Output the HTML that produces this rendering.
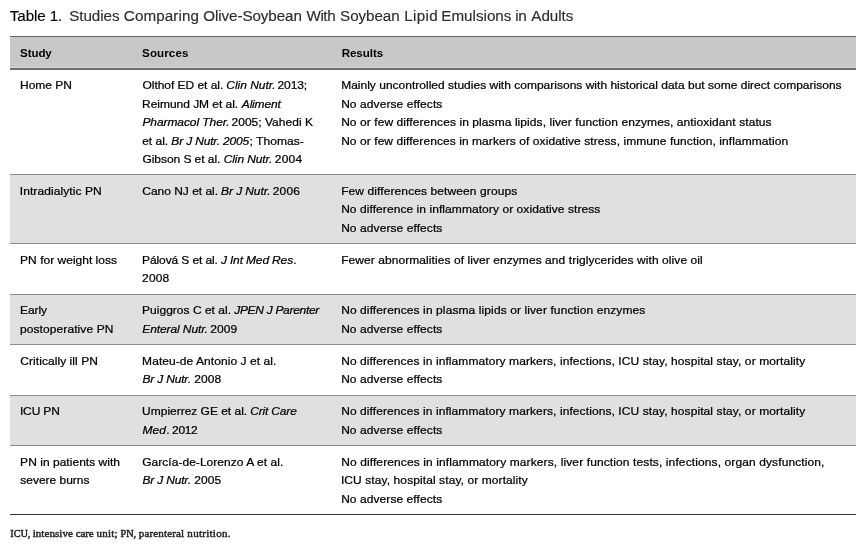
<!DOCTYPE html>
<html lang="en">
<head>
<meta charset="utf-8">
<title>Table 1</title>
<style>
html,body{margin:0;padding:0;background:#fff;}
body{width:866px;height:549px;overflow:hidden;position:relative;font-family:"Liberation Sans",Arial,Helvetica,sans-serif;color:#000;}
.cap{position:absolute;left:10px;top:6px;font-size:15.2px;line-height:20px;color:#2c2c2c;white-space:nowrap;-webkit-text-stroke:0.15px #2c2c2c;}
.cap .t1{color:#000;-webkit-text-stroke-color:#000;}
.tbl{position:absolute;left:10px;top:36px;width:846px;font-size:12px;line-height:18.4px;-webkit-text-stroke:0.25px #000;}
.r{display:flex;border-bottom:1px solid #8c8c8c;padding:6.85px 0 5.85px 0;box-sizing:border-box;}
.r.g{background:#e0e0e0;}
.r.h{background:#c8c8c8;border-top:1px solid #666;border-bottom:2px solid #6e6e6e;font-weight:bold;height:34px;padding:6.5px 0 0 0;box-shadow:inset 0 -1px 0 #d6d6d6;-webkit-text-stroke:0;}
.r.h + .r{padding-top:6.35px;}
.r.last{border-bottom:1px solid #333;}
.c1{width:122px;padding-left:10px;box-sizing:border-box;flex:none;}
.c2{width:199px;padding-left:10px;box-sizing:border-box;flex:none;}
.c3{flex:1;padding-left:10px;}
.l{white-space:nowrap;}
.foot{position:absolute;left:10px;top:525px;font-family:"Liberation Serif","Times New Roman",serif;font-size:11px;line-height:16px;color:#222;white-space:nowrap;-webkit-text-stroke:0.45px #222;}
.foot .sc{font-size:10.2px;}
.tbl .l{transform:scaleY(.935);transform-origin:0 13.2px;}
.r.h .l{font-size:11.6px;transform:scaleY(.97);}
</style>
</head>
<body>
<div class="cap l"><span class="t1" style="margin-left:-0.18px;letter-spacing:-0.1px">Table 1.</span> <span style="margin-left:2.76px;letter-spacing:-0.05px">Studies</span> <span style="margin-left:0.07px;letter-spacing:0.11px">Comparing</span> <span style="margin-left:-0.06px;letter-spacing:-0.09px">Olive-Soybean</span> <span style="margin-left:0.53px;letter-spacing:-0.43px">With</span> <span style="margin-left:0.73px;letter-spacing:-0.07px">Soybean</span> <span style="margin-left:0.32px;letter-spacing:0.36px">Lipid</span> <span style="margin-left:-0.98px;letter-spacing:0.01px">Emulsions</span> <span style="margin-left:-0.36px;letter-spacing:-0.45px">in</span> <span style="margin-left:0.89px;letter-spacing:-0.06px">Adults</span></div>
<div class="tbl">
<div class="r h">
<div class="c1">
<div class="l"><span style="margin-left:0.08px;letter-spacing:-0.12px">Study</span></div>
</div>
<div class="c2">
<div class="l"><span style="margin-left:0.08px;letter-spacing:0.09px">Sources</span></div>
</div>
<div class="c3">
<div class="l"><span style="margin-left:0.64px;letter-spacing:-0.04px">Results</span></div>
</div>
</div>
<div class="r">
<div class="c1">
<div class="l"><span style="margin-left:0.12px;letter-spacing:-0.05px">Home PN</span></div>
</div>
<div class="c2">
<div class="l"><span style="margin-left:0.48px;letter-spacing:-0.04px">Olthof ED et al.</span> <i style="margin-left:-0.26px;letter-spacing:-0.02px">Clin Nutr.</i> <span style="margin-left:-1.46px;letter-spacing:-0.12px">2013;</span></div>
<div class="l"><span style="margin-left:0.12px;letter-spacing:-0.04px">Reimund JM et al.</span> <i style="margin-left:0.34px;letter-spacing:-0.18px">Aliment</i></div>
<div class="l"><i style="margin-left:0.42px;letter-spacing:-0.08px">Pharmacol Ther.</i> <span style="margin-left:-1.32px;letter-spacing:0.02px">2005; Vahedi K</span></div>
<div class="l"><span style="margin-left:0.17px">et al.</span> <i style="margin-left:-0.21px;letter-spacing:-0.17px">Br J Nutr. 2005</i><span style="margin-left:0.57px;letter-spacing:0.04px">; Thomas-</span></div>
<div class="l"><span style="margin-left:0.48px;letter-spacing:-0.06px">Gibson S et al.</span> <i style="margin-left:0.15px;letter-spacing:-0.12px">Clin Nutr.</i> <span style="margin-left:-0.74px;letter-spacing:0.23px">2004</span></div>
</div>
<div class="c3">
<div class="l"><span style="margin-left:0.13px;letter-spacing:0.01px">Mainly uncontrolled studies with comparisons with historical data but some direct comparisons</span></div>
<div class="l"><span style="margin-left:0.13px;letter-spacing:0.08px">No adverse effects</span></div>
<div class="l"><span style="margin-left:0.13px;letter-spacing:0.08px">No or few differences in plasma lipids, liver function enzymes, antioxidant status</span></div>
<div class="l"><span style="margin-left:0.13px;letter-spacing:0.07px">No or few differences in markers of oxidative stress, immune function, inflammation</span></div>
</div>
</div>
<div class="r g">
<div class="c1">
<div class="l"><span style="margin-left:-0.27px;letter-spacing:0.09px">Intradialytic PN</span></div>
</div>
<div class="c2">
<div class="l"><span style="margin-left:0.28px;letter-spacing:-0.02px">Cano NJ et al.</span> <i style="margin-left:-0.32px;letter-spacing:-0.09px">Br J Nutr.</i> <span style="margin-left:-1px;letter-spacing:0.15px">2006</span></div>
</div>
<div class="c3">
<div class="l"><span style="margin-left:0.13px;letter-spacing:0.1px">Few differences between groups</span></div>
<div class="l"><span style="margin-left:0.13px;letter-spacing:0.07px">No difference in inflammatory or oxidative stress</span></div>
<div class="l"><span style="margin-left:0.13px;letter-spacing:0.08px">No adverse effects</span></div>
</div>
</div>
<div class="r">
<div class="c1">
<div class="l"><span style="margin-left:0.12px;letter-spacing:0.01px">PN for weight loss</span></div>
</div>
<div class="c2">
<div class="l"><span style="margin-left:0.12px;letter-spacing:-0.11px">Pálová S et al.</span> <i style="margin-left:-0.29px;letter-spacing:-0.15px">J Int Med Res</i><span style="margin-left:0.21px">.</span></div>
<div class="l"><span style="margin-left:0.12px;letter-spacing:0.11px">2008</span></div>
</div>
<div class="c3">
<div class="l"><span style="margin-left:0.13px;letter-spacing:0.07px">Fewer abnormalities of liver enzymes and triglycerides with olive oil</span></div>
</div>
</div>
<div class="r g">
<div class="c1">
<div class="l"><span style="margin-left:0.12px;letter-spacing:-0.11px">Early</span></div>
<div class="l"><span style="margin-left:-0.03px;letter-spacing:0.09px">postoperative PN</span></div>
</div>
<div class="c2">
<div class="l"><span style="margin-left:0.12px;letter-spacing:0.01px">Puiggros C et al.</span> <i style="margin-left:-0.11px;letter-spacing:-0.31px">JPEN J Parenter</i></div>
<div class="l"><i style="margin-left:0.37px;letter-spacing:-0.11px">Enteral Nutr.</i> <span style="margin-left:-0.98px;letter-spacing:0.07px">2009</span></div>
</div>
<div class="c3">
<div class="l"><span style="margin-left:0.13px;letter-spacing:0.1px">No differences in plasma lipids or liver function enzymes</span></div>
<div class="l"><span style="margin-left:0.13px;letter-spacing:0.08px">No adverse effects</span></div>
</div>
</div>
<div class="r">
<div class="c1">
<div class="l"><span style="margin-left:0.28px;letter-spacing:0.06px">Critically ill PN</span></div>
</div>
<div class="c2">
<div class="l"><span style="margin-left:0.12px;letter-spacing:0.06px">Mateu-de Antonio J et al.</span></div>
<div class="l"><i style="margin-left:0.56px;letter-spacing:-0.2px">Br J Nutr.</i> <span style="margin-left:0.24px;letter-spacing:0.04px">2008</span></div>
</div>
<div class="c3">
<div class="l"><span style="margin-left:0.13px;letter-spacing:0.09px">No differences in inflammatory markers, infections, ICU stay, hospital stay, or mortality</span></div>
<div class="l"><span style="margin-left:0.13px;letter-spacing:0.08px">No adverse effects</span></div>
</div>
</div>
<div class="r g">
<div class="c1">
<div class="l"><span style="margin-left:-0.08px;letter-spacing:-0.14px">ICU PN</span></div>
</div>
<div class="c2">
<div class="l"><span style="margin-left:0.11px;letter-spacing:-0.02px">Umpierrez GE et al.</span> <i style="margin-left:-0.3px;letter-spacing:-0.16px">Crit Care</i></div>
<div class="l"><i style="margin-left:0.6px;letter-spacing:-0.06px">Med</i><span style="margin-left:0.36px;letter-spacing:-0.35px">. 2012</span></div>
</div>
<div class="c3">
<div class="l"><span style="margin-left:0.13px;letter-spacing:0.09px">No differences in inflammatory markers, infections, ICU stay, hospital stay, or mortality</span></div>
<div class="l"><span style="margin-left:0.13px;letter-spacing:0.08px">No adverse effects</span></div>
</div>
</div>
<div class="r last">
<div class="c1">
<div class="l"><span style="margin-left:0.12px;letter-spacing:0.03px">PN in patients with</span></div>
<div class="l"><span style="margin-left:0.28px;letter-spacing:-0.02px">severe burns</span></div>
</div>
<div class="c2">
<div class="l"><span style="margin-left:0.16px;letter-spacing:0.04px">García-de-Lorenzo A et al.</span></div>
<div class="l"><i style="margin-left:0.56px;letter-spacing:-0.2px">Br J Nutr.</i> <span style="margin-left:0.24px;letter-spacing:0.04px">2005</span></div>
</div>
<div class="c3">
<div class="l"><span style="margin-left:0.13px;letter-spacing:0.11px">No differences in inflammatory markers, liver function tests, infections, organ dysfunction,</span></div>
<div class="l"><span style="margin-left:-0.08px;letter-spacing:0.09px">ICU stay, hospital stay, or mortality</span></div>
<div class="l"><span style="margin-left:0.13px;letter-spacing:0.07px">No adverse effects</span></div>
</div>
</div>
</div>
<div class="foot l"><span class="sc" style="margin-left:0.33px;letter-spacing:-0.07px">ICU,</span> <span style="margin-left:-0.24px;letter-spacing:0.06px">intensive</span> <span style="margin-left:0.04px;letter-spacing:-0.15px">care</span> <span style="margin-left:0.3px;letter-spacing:0.21px">unit;</span> <span class="sc" style="margin-left:0.04px;letter-spacing:0.06px">PN,</span> <span style="margin-left:-0.15px;letter-spacing:0.15px">parenteral</span> <span style="margin-left:0.32px;letter-spacing:0.27px">nutrition.</span></div>
</body>
</html>
